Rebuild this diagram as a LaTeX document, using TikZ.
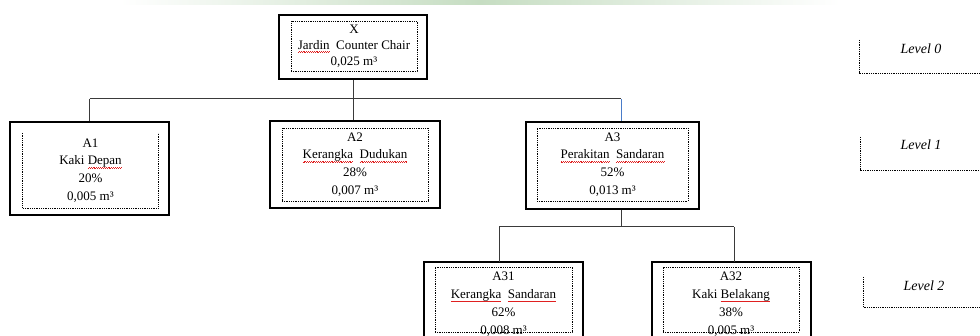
\documentclass[tikz,border=0pt]{standalone}
\usepackage{fontspec}
\setmainfont{Liberation Serif}
\usepackage{xcolor}
\usepackage{tikz}
\usetikzlibrary{calc}
\definecolor{ink}{HTML}{000000}
\definecolor{wire}{HTML}{3A3A3A}
\definecolor{blu}{HTML}{4A7CC9}
\definecolor{band}{HTML}{C6DDC2}
\definecolor{squig}{HTML}{E02020}
\newcommand{\spl}[1]{\setbox0\hbox{#1}\leavevmode\rlap{\color{squig}\hbox to\wd0{\xleaders\hbox{\rule[-3.4pt]{0.9pt}{0.6pt}\rule[-2.8pt]{0.9pt}{0.6pt}}\hfill}}\box0\relax}
\tikzset{
  box/.style={draw=ink, line width=2.6pt, inner sep=0pt},
  inbox/.style={draw=ink, densely dotted, line width=0.8pt, inner sep=0pt, align=center,
    font=\fontsize{13}{17.8}\selectfont},
  intext/.style={inner sep=0pt, align=center, font=\fontsize{13}{17.8}\selectfont},
  link/.style={draw=wire, line width=1pt},
  guide/.style={draw=ink, densely dotted, line width=0.8pt},
  lvl/.style={text=ink, font=\fontsize{14}{16}\selectfont\itshape},
}
\begin{document}
\begin{tikzpicture}[x=1pt,y=-1pt]
  \useasboundingbox (0,0) rectangle (980,336);
  \clip (0,0) rectangle (980,336);
  \shade[left color=white, right color=white, middle color=band] (120,0) rectangle (840,5);

  % level 0
  \node[box, minimum width=148, minimum height=64] (X) at (353,47) {};
  \node[inbox, minimum width=126, minimum height=50, font=\fontsize{13}{16}\selectfont] (Xin) at (354,46)
    {X\\\spl{Jardin}\ \ Counter Chair\\0,025 m³};

  % level 1
  \node[box, minimum width=159, minimum height=93] (A1) at (89.5,168.5) {};
  \node[intext, minimum width=135, minimum height=75] (A1in) at (90.5,170.5)
    {A1\\Kaki \spl{Depan}\\20\%\\0,005 m³};
  \draw[guide] (A1in.north west) -- (A1in.south west) -- (A1in.south east) -- (A1in.north east);
  \node[box, minimum width=170, minimum height=87] (A2) at (355,164.5) {};
  \node[inbox, minimum width=146, minimum height=73] (A2in) at (355,164.5)
    {A2\\\spl{Kerangka}\ \ \spl{Dudukan}\\28\%\\0,007 m³};
  \node[box, minimum width=173, minimum height=87] (A3) at (612.5,165.5) {};
  \node[inbox, minimum width=151, minimum height=73] (A3in) at (612.5,164.5)
    {A3\\\spl{Perakitan}\ \ \spl{Sandaran}\\52\%\\0,013 m³};

  % level 2
  \node[box, minimum width=159, minimum height=80] (A31) at (503.5,302) {};
  \node[inbox, minimum width=137, minimum height=65] (A31in) at (503.5,299.5) {};
  \node[intext] (A31tx) at (503.5,304)
    {A31\\\spl{Kerangka}\ \ \spl{Sandaran}\\62\%\\0,008 m³};
  \node[box, minimum width=159, minimum height=80] (A32) at (731.5,302) {};
  \node[inbox, minimum width=136, minimum height=65] (A32in) at (731,299.5) {};
  \node[intext] (A32tx) at (731,304)
    {A32\\Kaki \spl{Belakang}\\38\%\\0,005 m³};

  % connectors
  \coordinate (bus0) at (621,99);
  \coordinate (bus1) at (621,227);
  \coordinate (t31) at (499,262);
  \coordinate (t32) at (734,262);
  \draw[link] (X.south) -- (X.south |- A2.north);
  \draw[link] (A1.north |- bus0) -- (bus0);
  \draw[link] (A1.north |- bus0) -- (A1.north);
  \draw[link, draw=blu] (bus0) -- (bus0 |- A3.north);
  \draw[link] (bus0 |- A3.south) -- (bus1);
  \draw[link] (t31 |- bus1) -- (t32 |- bus1);
  \draw[link] (t31 |- bus1) -- (t31);
  \draw[link] (t32 |- bus1) -- (t32);

  % levels
  \coordinate (L0) at (859,73);
  \coordinate (L1) at (860,170);
  \coordinate (L2) at (863,307);
  \draw[guide] (L0) ++(0,-33) -- (L0) -- (L0 -| 980,0);
  \draw[guide] (L1) ++(0,-33) -- (L1) -- (L1 -| 980,0);
  \draw[guide] (L2) ++(0,-30) -- (L2) -- (L2 -| 980,0);
  \node[lvl] (lv0) at (921,49) {Level 0};
  \node[lvl] (lv1) at (921,145) {Level 1};
  \node[lvl] (lv2) at (924,286) {Level 2};
\end{tikzpicture}
\end{document}
